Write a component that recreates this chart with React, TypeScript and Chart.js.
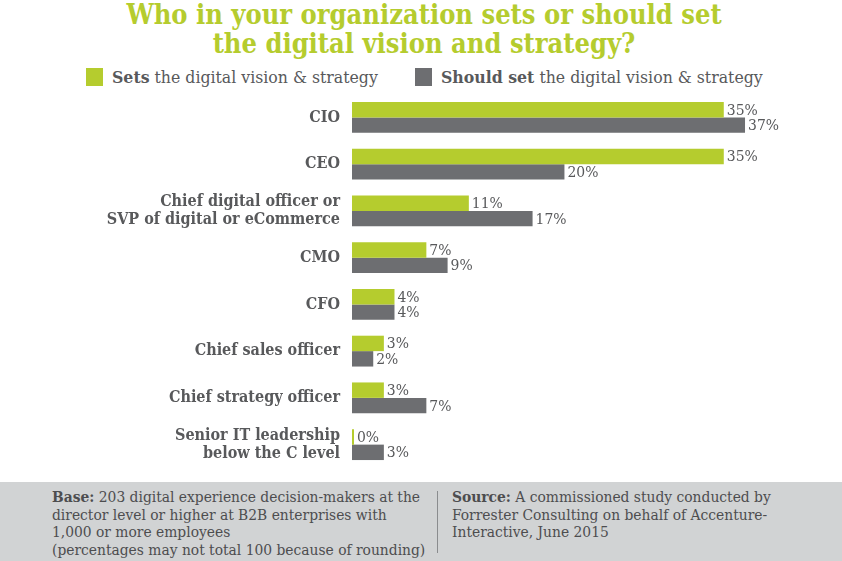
import React, { useEffect, useRef } from "react";
import { Chart, registerables } from "chart.js";

Chart.register(...registerables);

const categories: (string | string[])[] = [
  "CIO",
  "CEO",
  ["Chief digital officer or", "SVP of digital or eCommerce"],
  "CMO",
  "CFO",
  "Chief sales officer",
  "Chief strategy officer",
  ["Senior IT leadership", "below the C level"],
];
const setsValues = [35, 35, 11, 7, 4, 3, 3, 0];
const shouldValues = [37, 20, 17, 9, 4, 2, 7, 3];
const seriesNames = ["Sets the digital vision & strategy", "Should set the digital vision & strategy"];

const GREEN = "#b5cc2e";
const GRAY = "#6d6e71";
const TEXT = "#58595b";
const FONT = '"DejaVu Serif Condensed", "DejaVu Serif", serif';

const valueLabels = {
  id: "valueLabels",
  afterDatasetsDraw(chart: any) {
    const ctx = chart.ctx;
    ctx.save();
    ctx.font = `15.5px ${FONT}`;
    ctx.fillStyle = TEXT;
    ctx.textBaseline = "middle";
    ctx.textAlign = "left";
    chart.data.datasets.forEach((ds: any, di: number) => {
      const meta = chart.getDatasetMeta(di);
      meta.data.forEach((el: any, i: number) => {
        ctx.fillText(`${ds.data[i]}%`, el.x + 3, el.y + 1);
      });
    });
    ctx.restore();
  },
};

export default function App() {
  const ref = useRef<HTMLCanvasElement>(null);
  useEffect(() => {
    if (!ref.current) return;
    const chart = new Chart(ref.current, {
      type: "bar",
      data: {
        labels: categories,
        datasets: [
          { label: seriesNames[0], data: setsValues, backgroundColor: GREEN, minBarLength: 2 },
          { label: seriesNames[1], data: shouldValues, backgroundColor: GRAY },
        ],
      },
      options: {
        indexAxis: "y",
        animation: false,
        responsive: false,
        maintainAspectRatio: false,
        datasets: { bar: { barPercentage: 1, categoryPercentage: 0.66 } },
        layout: { padding: { top: 94, bottom: 93, right: 12, left: 0 } },
        plugins: { legend: { display: false }, tooltip: { enabled: false }, title: { display: false } },
        scales: {
          x: { display: false, min: 0, max: 45 },
          y: {
            grid: { display: false, drawTicks: false },
            border: { display: false },
            ticks: { color: TEXT, font: { family: FONT, size: 16, weight: "bold", lineHeight: 1.15 }, padding: 12, autoSkip: false },
            afterFit: (scale: any) => {
              scale.width = 352;
            },
          },
        },
      } as any,
      plugins: [valueLabels],
    });
    return () => chart.destroy();
  }, []);

  const foot = { color: "#4d4d4f", fontSize: 15.4, lineHeight: "17.5px", whiteSpace: "nowrap" as const };

  return (
    <div style={{ position: "fixed", left: 0, top: 0, width: 842, height: 561, background: "#fff", overflow: "hidden", fontFamily: FONT }}>
      <div style={{ position: "absolute", top: 0, left: 3, width: 842, textAlign: "center", color: GREEN, fontWeight: "bold", fontSize: 27, lineHeight: "29px" }}>
        Who in your organization sets or should set
        <br />
        the digital vision and strategy?
      </div>
      <div style={{ position: "absolute", top: 68, left: 86, width: 17, height: 18, background: GREEN }} />
      <div style={{ position: "absolute", top: 65, left: 112, color: TEXT, fontSize: 17.5, lineHeight: "24px", whiteSpace: "nowrap" }}>
        <b>Sets</b> the digital vision &amp; strategy
      </div>
      <div style={{ position: "absolute", top: 68, left: 415, width: 17, height: 18, background: GRAY }} />
      <div style={{ position: "absolute", top: 65, left: 441, color: TEXT, fontSize: 17.5, lineHeight: "24px", whiteSpace: "nowrap" }}>
        <b>Should set</b> the digital vision &amp; strategy
      </div>
      <canvas ref={ref} width={842} height={561} style={{ position: "absolute", left: 0, top: 0 }} />
      <div style={{ position: "absolute", top: 482, left: 0, width: 842, height: 79, background: "#d1d3d4" }}>
        <div style={{ position: "absolute", top: 7, left: 52, ...foot }}>
          <b>Base:</b> 203 digital experience decision-makers at the
          <br />
          director level or higher at B2B enterprises with
          <br />
          1,000 or more employees
          <br />
          (percentages may not total 100 because of rounding)
        </div>
        <div style={{ position: "absolute", top: 9, left: 437, width: 1, height: 62, background: "#8a8c8e" }} />
        <div style={{ position: "absolute", top: 7, left: 452, ...foot }}>
          <b>Source:</b> A commissioned study conducted by
          <br />
          Forrester Consulting on behalf of Accenture-
          <br />
          Interactive, June 2015
        </div>
      </div>
    </div>
  );
}
